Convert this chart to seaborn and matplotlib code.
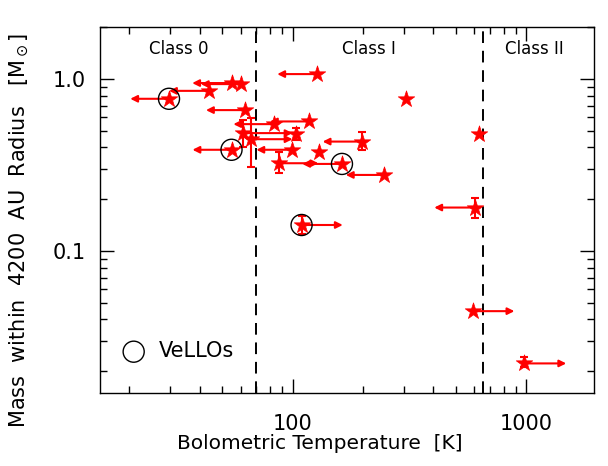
import numpy as np
import pandas as pd
import matplotlib
matplotlib.use("Agg")
import matplotlib.pyplot as plt
import seaborn as sns
from matplotlib.ticker import FixedLocator, FixedFormatter, LogLocator, NullFormatter

# ---- data ----
tbol = [29.6, 44.0, 55.0, 60.1, 62.7, 54.8, 61.1, 66.7,
        127.0, 306.0, 82.9, 118.0, 103.4, 99.0, 130.0, 87.1,
        162.7, 197.5, 247.0, 109.3, 626.0, 604.0, 594.0, 982.0]
mass = [0.768, 0.854, 0.948, 0.935, 0.660, 0.388, 0.485, 0.447,
        1.069, 0.768, 0.547, 0.567, 0.478, 0.388, 0.376, 0.324,
        0.321, 0.433, 0.277, 0.1417, 0.478, 0.179, 0.0447, 0.0222]
# end of limit arrow in Tbol (nan = no arrow)
arrow_to = [20.2, 29.6, 37.2, 40.5, 42.6, 37.3, 100.0, 100.0,
            86.0, np.nan, 55.8, 80.0, np.nan, 70.0, np.nan, 129.0,
            110.0, 134.5, 169.0, 164.0, np.nan, 404.0, 890.0, 1483.0]
mass_lo = [np.nan, np.nan, np.nan, np.nan, np.nan, np.nan, 0.405, 0.310,
           np.nan, np.nan, np.nan, np.nan, 0.443, np.nan, np.nan, 0.284,
           np.nan, 0.388, np.nan, 0.1256, np.nan, 0.155, np.nan, 0.0212]
mass_hi = [np.nan, np.nan, np.nan, np.nan, np.nan, np.nan, 0.580, 0.593,
           np.nan, np.nan, np.nan, np.nan, 0.519, np.nan, np.nan, 0.379,
           np.nan, 0.495, np.nan, 0.160, np.nan, 0.203, np.nan, 0.0242]
vello = [True, False, False, False, False, True, False, False,
         False, False, False, False, False, False, False, False,
         True, False, False, True, False, False, False, False]

class_bounds = [70, 650]
class_names = ["Class 0", "Class I", "Class II"]
class_label_x = [32.7, 213.0, 1084.0]
class_label_y = 1.50

xticks = [100, 1000]
xticklabels = ["100", "1000"]
yticks = [0.1, 1.0]
yticklabels = ["0.1", "1.0"]

df = pd.DataFrame({"tbol": tbol, "mass": mass, "arrow_to": arrow_to,
                   "lo": mass_lo, "hi": mass_hi, "vello": vello})

sns.set_theme(style="ticks")
plt.rcParams["font.family"] = ["DejaVu Sans"]
plt.rcParams["text.color"] = "black"

fig = plt.figure(figsize=(6.08, 4.66), dpi=100)
ax = fig.add_axes([0.1645, 0.1573, 0.8125, 0.7841])
ax.set_xscale("log")
ax.set_yscale("log")
ax.set_xlim(15, 1950)
ax.set_ylim(0.015, 2.0)

# class boundaries
for xb in class_bounds:
    ax.axvline(xb, color="black", lw=1.4, ls=(0, (6, 4)), zorder=1)

# error bars
eb = df.dropna(subset=["lo"])
ax.errorbar(eb["tbol"], eb["mass"],
            yerr=[eb["mass"] - eb["lo"], eb["hi"] - eb["mass"]],
            fmt="none", ecolor="red", elinewidth=1.5, capsize=3, capthick=1.5,
            zorder=2)

# limit arrows
for _, r in df.dropna(subset=["arrow_to"]).iterrows():
    ax.annotate("", xy=(r["arrow_to"], r["mass"]), xytext=(r["tbol"], r["mass"]),
                arrowprops=dict(arrowstyle="-|>", color="red", lw=1.5,
                                mutation_scale=10, shrinkA=0, shrinkB=0),
                zorder=2)

# stars
sns.scatterplot(data=df, x="tbol", y="mass", marker="*", s=155,
                color="red", edgecolor="red", linewidth=0.5, ax=ax, zorder=3,
                legend=False)
# VeLLO circles
sns.scatterplot(data=df[df["vello"]], x="tbol", y="mass", marker="o", s=230,
                facecolor="none", edgecolor="black", linewidth=1.0, ax=ax,
                zorder=4, label="VeLLOs")

for name, xl in zip(class_names, class_label_x):
    ax.text(xl, class_label_y, name, ha="center", va="center", fontsize=12,
            color="black")

ax.xaxis.set_major_locator(FixedLocator(xticks))
ax.xaxis.set_major_formatter(FixedFormatter(xticklabels))
ax.yaxis.set_major_locator(FixedLocator(yticks))
ax.yaxis.set_major_formatter(FixedFormatter(yticklabels))
ax.xaxis.set_minor_locator(LogLocator(base=10, subs=np.arange(2, 10)))
ax.yaxis.set_minor_locator(LogLocator(base=10, subs=np.arange(2, 10)))
ax.xaxis.set_minor_formatter(NullFormatter())
ax.yaxis.set_minor_formatter(NullFormatter())
ax.tick_params(which="both", direction="in", top=True, right=True,
               color="black", labelsize=15, labelcolor="black")
ax.tick_params(axis="x", which="major", length=10, width=1, pad=15)
ax.tick_params(axis="y", which="major", length=10, width=1, pad=10)
ax.tick_params(which="minor", length=5, width=1)
for sp in ax.spines.values():
    sp.set_color("black")
    sp.set_linewidth(1.0)

ax.set_xlabel("Bolometric Temperature  [K]", fontsize=14.5, color="black")
ax.xaxis.set_label_coords(0.445, -0.113)
ax.set_ylabel(r"Mass  within  4200  AU  Radius   [M$_\odot$]", fontsize=15,
              color="black")
ax.yaxis.set_label_coords(-0.14, 0.445)

leg = ax.legend(loc="lower left", bbox_to_anchor=(-0.012, 0.035), frameon=False,
                fontsize=15, handletextpad=0.2, borderaxespad=0.5,
                labelcolor="black")

fig.savefig("out.png", dpi=100)
